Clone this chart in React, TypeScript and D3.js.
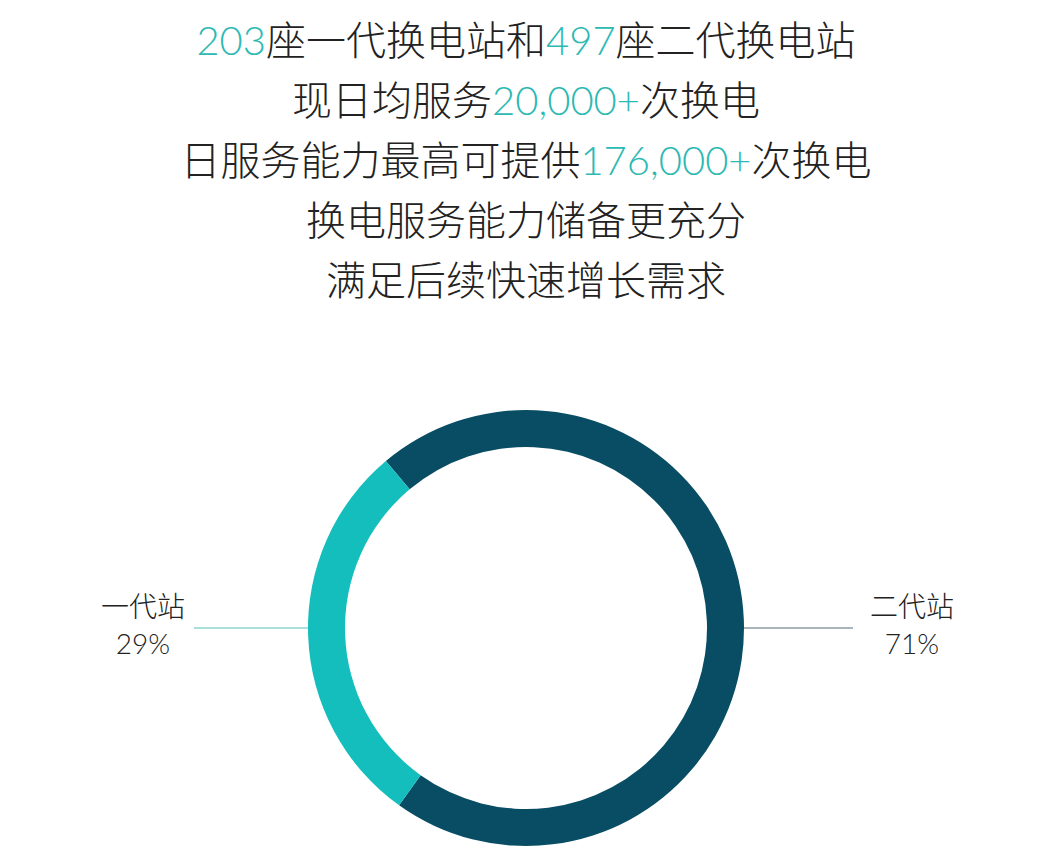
import { useEffect, useRef } from "react";
import * as d3 from "d3";

// headline lines; highlighted parts are the numbers
const headlineLines: { text: string; hl: boolean }[][] = [
  [
    { text: "203", hl: true },
    { text: "座一代换电站和", hl: false },
    { text: "497", hl: true },
    { text: "座二代换电站", hl: false },
  ],
  [
    { text: "现日均服务", hl: false },
    { text: "20,000+", hl: true },
    { text: "次换电", hl: false },
  ],
  [
    { text: "日服务能力最高可提供", hl: false },
    { text: "176,000+", hl: true },
    { text: "次换电", hl: false },
  ],
  [{ text: "换电服务能力储备更充分", hl: false }],
  [{ text: "满足后续快速增长需求", hl: false }],
];

const categories = ["二代站", "一代站"];
const shares = [71, 29];

const WIDTH = 1048;
const HEIGHT = 868;
const FONT = "Lato, 'Noto Sans CJK SC', sans-serif";
const TEAL_TEXT = "#2cb9b3";
const TEXT = "#222222";

const sliceColor = d3
  .scaleOrdinal<string>()
  .domain(categories)
  .range(["#084d64", "#14bebd"]);

const lineColor = d3
  .scaleOrdinal<string>()
  .domain(categories)
  .range(["#8d9ca3", "#8fd4d2"]);

const App = () => {
  const svgRef = useRef<SVGSVGElement>(null);

  useEffect(() => {
    if (!svgRef.current) return;
    const svg = d3.select(svgRef.current);
    svg.selectAll("*").remove();

    // headline text
    const cx = 526;
    const lineY = d3
      .scaleLinear()
      .domain([0, 1])
      .range([55, 115]);

    headlineLines.forEach((parts, i) => {
      const t = svg
        .append("text")
        .attr("x", cx)
        .attr("y", lineY(i))
        .attr("text-anchor", "middle")
        .attr("font-family", FONT)
        .attr("font-weight", 300)
        .attr("font-size", 40)
        .attr("fill", TEXT);
      parts.forEach((p) => {
        t.append("tspan")
          .attr("fill", p.hl ? TEAL_TEXT : TEXT)
          .text(p.text);
      });
    });

    // donut
    const center = { x: 526, y: 628 };
    const outerR = 218;
    const innerR = 181;

    const pie = d3
      .pie<number>()
      .sort(null)
      .startAngle((-40 * Math.PI) / 180)
      .endAngle((320 * Math.PI) / 180);

    const arc = d3
      .arc<d3.PieArcDatum<number>>()
      .innerRadius(innerR)
      .outerRadius(outerR);

    const g = svg
      .append("g")
      .attr("transform", `translate(${center.x},${center.y})`);

    g.selectAll("path")
      .data(pie(shares))
      .enter()
      .append("path")
      .attr("d", arc)
      .attr("fill", (_, i) => sliceColor(categories[i]));

    // leader lines + labels
    const sides = [
      { cat: categories[1], value: shares[1], dir: -1, lx: 143 },
      { cat: categories[0], value: shares[0], dir: 1, lx: 912 },
    ];

    sides.forEach((s) => {
      const x1 = center.x + s.dir * outerR;
      const x2 = s.dir < 0 ? 194 : 853;
      svg
        .append("line")
        .attr("x1", x1)
        .attr("x2", x2)
        .attr("y1", center.y)
        .attr("y2", center.y)
        .attr("stroke", lineColor(s.cat))
        .attr("stroke-width", 1.5);

      svg
        .append("text")
        .attr("x", s.lx)
        .attr("y", 617)
        .attr("text-anchor", "middle")
        .attr("font-family", FONT)
        .attr("font-weight", 300)
        .attr("font-size", 28)
        .attr("fill", TEXT)
        .text(s.cat);

      svg
        .append("text")
        .attr("x", s.lx)
        .attr("y", 654)
        .attr("text-anchor", "middle")
        .attr("font-family", FONT)
        .attr("font-weight", 300)
        .attr("font-size", 28)
        .attr("fill", TEXT)
        .text(`${s.value}%`);
    });
  }, []);

  return (
    <svg
      ref={svgRef}
      width={WIDTH}
      height={HEIGHT}
      style={{ position: "absolute", left: 0, top: 0, background: "#fff" }}
    />
  );
};

export default App;
